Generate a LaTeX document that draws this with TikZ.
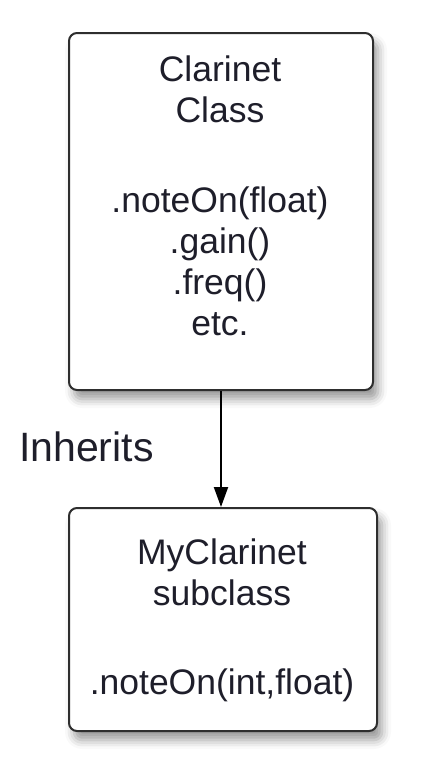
\documentclass[tikz,border=0pt]{standalone}
\usepackage{fontspec}
\setmainfont{Liberation Sans}
\usetikzlibrary{arrows.meta,shadows.blur}
\definecolor{txt}{HTML}{1E1E2A}
\definecolor{edge}{HTML}{2E2E2E}
\tikzset{
  classbox/.style={draw=edge, line width=2pt, rounded corners=8pt, fill=white,
    inner sep=0pt, anchor=north west,
    blur shadow={shadow xshift=5pt, shadow yshift=-9pt, shadow blur radius=9pt, shadow opacity=40}},
  boxtext/.style={inner sep=0pt, align=center, text=txt,
    font=\fontsize{35.5}{41}\selectfont},
  inherit/.style={inner sep=0pt, text=txt, font=\fontsize{41}{48}\selectfont},
  link/.style={line width=2pt, -{Triangle[length=20pt,width=14pt]}}
}
\begin{document}
\begin{tikzpicture}[x=1pt,y=-1pt]
\useasboundingbox (0,0) rectangle (436,772);
\node[classbox, minimum width=304pt, minimum height=357pt] (top) at (68,32) {};
\node[classbox, minimum width=308pt, minimum height=223pt] (bot) at (68,507) {};
\node[boxtext, anchor=north] (t1) at (220,56) {Clarinet\\Class};
\node[boxtext, anchor=north] (t2) at (220,187) {.noteOn(float)\\.gain()\\.freq()\\etc.};
\node[boxtext, anchor=north] (b1) at (222,539) {MyClarinet\\subclass};
\node[boxtext, anchor=north] (b2) at (222,669) {.noteOn(int,float)};
\node[inherit, anchor=base west] (inh) at (19,461) {Inherits};
\draw[link] (top.south) -- (top.south |- bot.north);
\end{tikzpicture}
\end{document}
